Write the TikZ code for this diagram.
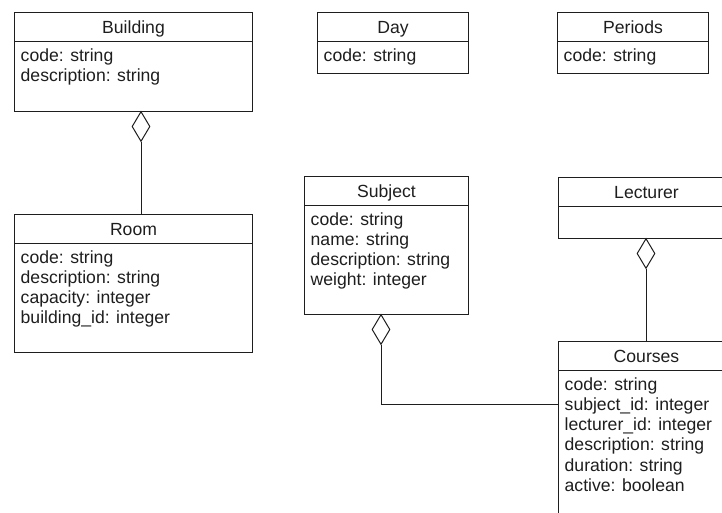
\documentclass[tikz,border=0pt]{standalone}
\usepackage{fontspec}
\setmainfont{Liberation Sans}
\usetikzlibrary{shapes.geometric}
\definecolor{ink}{HTML}{1E1E1E}
\tikzset{
  umlbox/.style={draw=ink, line width=1pt, anchor=north west, inner sep=0pt, fill=white},
  umltitle/.style={anchor=base, inner sep=0pt, text=ink, font=\fontsize{17.6}{20}\selectfont},
  umlattr/.style={anchor=base west, inner sep=0pt, text=ink, font=\fontsize{17.6}{20}\selectfont},
  aggd/.style={draw=ink, line width=1pt, shape=diamond, fill=white, inner sep=0pt, minimum width=18pt, minimum height=30pt},
  link/.style={draw=ink, line width=1pt}
}
% \umlclass{name}{left}{top}{width}{height}{title}{attribute list}
\newcommand{\umlclass}[7]{%
  \node[umlbox, minimum width=#4pt, minimum height=#5pt] (#1) at (#2,#3) {};
  \draw[ink, line width=1pt] ([yshift=-29.7pt]#1.north west) -- ([yshift=-29.7pt]#1.north east);
  \node[umltitle] (#1-title) at ([yshift=-21.5pt]#1.north) {#6};
  \foreach \attr [count=\k] in {#7} {
    \node[umlattr] (#1-attr\k) at ([xshift=6.5pt,yshift={-49.2pt-(\k-1)*20.2pt}]#1.north west) {\attr};
  }
}
\begin{document}
\begin{tikzpicture}[x=1pt,y=-1pt]
\path[use as bounding box, clip] (0,0) rectangle (722,512);
\fill[white] (0,0) rectangle (722,512);

\umlclass{building}{14}{12}{238}{99}{Building}{code: string,description: string}
\umlclass{room}{14}{214}{238}{138}{Room}{code: string,description: string,capacity: integer,building\_id: integer}
\umlclass{day}{317}{12}{151}{61}{Day}{code: string}
\umlclass{periods}{557}{12}{151}{61}{Periods}{code: string}
\umlclass{subject}{304}{176}{164}{138}{Subject}{code: string,name: string,description: string,weight: integer}
\umlclass{lecturer}{558}{177}{176}{61}{Lecturer}{}
\umlclass{courses}{558}{341}{176}{190}{Courses}{code: string,subject\_id: integer,lecturer\_id: integer,description: string,duration: string,active: boolean}

% aggregation diamonds on the owning classes
\node[aggd, anchor=north] (aggbuilding) at (141,111) {};
\node[aggd, anchor=north] (aggsubject) at (381,314) {};
\node[aggd, anchor=north] (agglecturer) at (646,238) {};

% association lines
\draw[link] (aggbuilding.south) -- (aggbuilding.south |- room.north);
\draw[link] (aggsubject.south) |- ([yshift=-63pt]courses.north west);
\draw[link] (agglecturer.south) -- (agglecturer.south |- courses.north);
\end{tikzpicture}
\end{document}
